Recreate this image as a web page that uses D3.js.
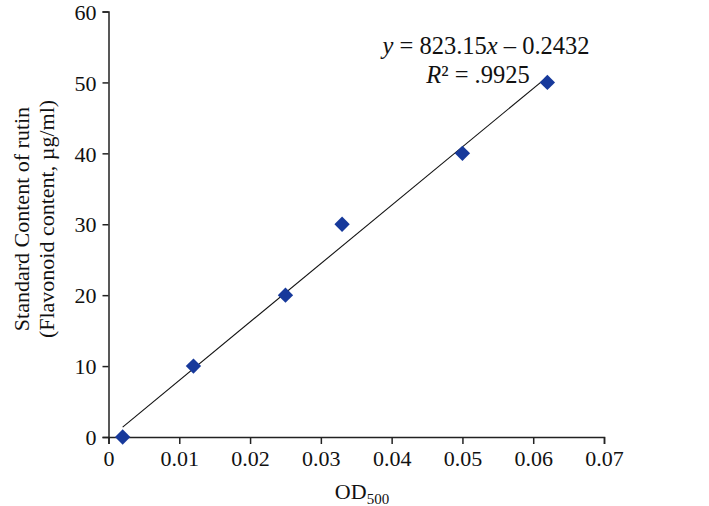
<!DOCTYPE html>
<html>
<head>
<meta charset="utf-8">
<script src="https://cdn.jsdelivr.net/npm/d3@7"></script>
<style>
  body { margin: 0; background: #fff; }
  svg { display: block; font-family: "Liberation Serif", "Times New Roman", serif; }
</style>
</head>
<body>
<div id="chart"></div>
<script>
// data
const odValues = [0.002, 0.012, 0.025, 0.033, 0.05, 0.062];
const rutinValues = [0, 10, 20, 30, 40, 50];
const xTicks = [0, 0.01, 0.02, 0.03, 0.04, 0.05, 0.06, 0.07];
const yTicks = [0, 10, 20, 30, 40, 50, 60];
const slope = 823.15;
const intercept = -0.2432;

const width = 709, height = 506;
const margin = {top: 11.5, right: 105, bottom: 69, left: 108.5};

const svg = d3.select("#chart").append("svg")
  .attr("width", width)
  .attr("height", height);

const x = d3.scaleLinear().domain([0, 0.07]).range([margin.left, width - margin.right]);
const y = d3.scaleLinear().domain([0, 60]).range([height - margin.bottom, margin.top]);

// axes
const xAxis = svg.append("g")
  .attr("transform", "translate(0," + y(0) + ")")
  .call(d3.axisBottom(x).tickValues(xTicks).tickSize(7).tickPadding(6)
    .tickFormat(d => d === 0 ? "0" : d3.format(".2f")(d)));

const yAxis = svg.append("g")
  .attr("transform", "translate(" + x(0) + ",0)")
  .call(d3.axisLeft(y).tickValues(yTicks).tickSize(6).tickPadding(6));

[xAxis, yAxis].forEach(g => {
  g.select(".domain").attr("stroke", "#222").attr("stroke-width", 1.5);
  g.selectAll(".tick line").attr("stroke", "#222").attr("stroke-width", 1.5);
  g.selectAll(".tick text")
    .attr("fill", "#111")
    .style("font-family", "'Liberation Serif', serif")
    .style("font-size", "22px");
});
yAxis.selectAll(".tick text").attr("dy", "0.35em");

// linear trendline across the data range
const xExt = d3.extent(odValues);
svg.append("line")
  .attr("x1", x(xExt[0])).attr("y1", y(slope * xExt[0] + intercept))
  .attr("x2", x(xExt[1])).attr("y2", y(slope * xExt[1] + intercept))
  .attr("stroke", "#111")
  .attr("stroke-width", 1.1);

// diamond markers
const diamond = d3.symbol().type(d3.symbolDiamond2).size(150);
svg.append("g").selectAll("path")
  .data(odValues)
  .enter().append("path")
  .attr("d", diamond)
  .attr("transform", (d, i) => "translate(" + x(d) + "," + y(rutinValues[i]) + ")")
  .attr("fill", "#17399b");

// equation
const eq = svg.append("text")
  .attr("x", 486).attr("y", 54)
  .attr("text-anchor", "middle")
  .style("font-size", "24.5px")
  .attr("fill", "#111");
eq.append("tspan").style("font-style", "italic").text("y");
eq.append("tspan").text(" = " + slope + "");
eq.append("tspan").style("font-style", "italic").text("x");
eq.append("tspan").text(" \u2013 " + Math.abs(intercept));

const r2 = svg.append("text")
  .attr("x", 478).attr("y", 83)
  .attr("text-anchor", "middle")
  .style("font-size", "24.5px")
  .attr("fill", "#111");
r2.append("tspan").style("font-style", "italic").text("R");
r2.append("tspan").text("\u00b2 = .9925");

// x axis title
const xt = svg.append("text")
  .attr("x", 362).attr("y", 499)
  .attr("text-anchor", "middle")
  .style("font-size", "22px")
  .attr("fill", "#111");
xt.append("tspan").text("OD");
xt.append("tspan").attr("dy", 5).style("font-size", "15px").text("500");

// y axis title
const yt = svg.append("g").attr("transform", "translate(0,219) rotate(-90)");
yt.append("text")
  .attr("x", 0).attr("y", 29)
  .attr("text-anchor", "middle")
  .style("font-size", "22px")
  .attr("fill", "#111")
  .text("Standard Content of rutin");
yt.append("text")
  .attr("x", 0).attr("y", 54)
  .attr("text-anchor", "middle")
  .style("font-size", "22px")
  .attr("fill", "#111")
  .text("(Flavonoid content, \u00b5g/ml)");
</script>
</body>
</html>
